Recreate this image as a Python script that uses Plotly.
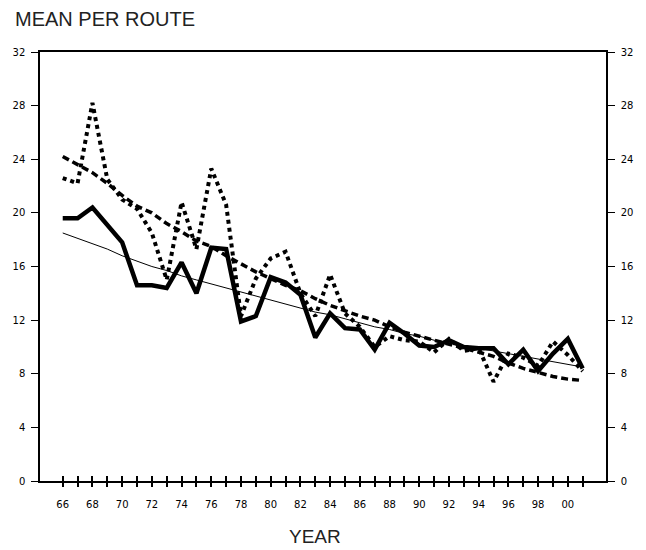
import plotly.graph_objects as go

years = list(range(66, 102))
tick_labels = [(f"{y % 100:02d}" if y % 2 == 0 and y <= 100 else "") for y in years]

series_thick = [19.6, 19.6, 20.4, 19.1, 17.8, 14.6, 14.6, 14.4, 16.3, 14.0,
                17.4, 17.3, 11.9, 12.3, 15.2, 14.8, 13.9, 10.7, 12.5, 11.4,
                11.3, 9.8, 11.8, 11.0, 10.1, 10.0, 10.5, 10.0, 9.9, 9.9,
                8.7, 9.8, 8.2, 9.5, 10.6, 8.4]

series_trend = [18.5, 18.1, 17.7, 17.3, 16.8, 16.4, 16.0, 15.7, 15.3, 15.0,
                14.7, 14.4, 14.1, 13.8, 13.5, 13.2, 12.9, 12.6, 12.4, 12.1,
                11.8, 11.5, 11.3, 11.0, 10.8, 10.5, 10.3, 10.1, 9.9, 9.7,
                9.5, 9.3, 9.1, 8.9, 8.7, 8.5]

series_dotted = [22.6, 22.2, 28.2, 22.5, 21.0, 20.3, 18.5, 15.0, 20.8, 17.3,
                 23.3, 20.6, 12.3, 15.1, 16.6, 17.1, 14.0, 12.3, 15.4, 12.5,
                 11.5, 10.0, 10.8, 10.5, 10.4, 9.6, 10.6, 9.7, 9.9, 7.4,
                 9.5, 9.2, 8.6, 10.4, 9.4, 8.2]

series_dashed = [24.2, 23.6, 23.0, 22.2, 21.3, 20.5, 20.0, 19.2, 18.6, 17.9,
                 17.5, 16.8, 16.2, 15.6, 15.1, 14.6, 14.2, 13.6, 13.1, 12.7,
                 12.3, 12.0, 11.5, 11.1, 10.8, 10.5, 10.2, 9.9, 9.6, 9.3,
                 8.8, 8.4, 8.1, 7.8, 7.6, 7.5]

y_ticks = [0, 4, 8, 12, 16, 20, 24, 28, 32]

TITLE_FONT = "Liberation Sans, Arial, sans-serif"
TICK_FONT = "DejaVu Sans, sans-serif"
XR = [64.47, 102.57]

fig = go.Figure()
fig.add_trace(go.Scatter(x=years, y=series_dashed, mode="lines",
                         line=dict(color="black", width=3.5, dash="7px,4px"),
                         hoverinfo="skip", showlegend=False))
fig.add_trace(go.Scatter(x=years, y=series_dotted, mode="lines",
                         line=dict(color="black", width=4, dash="4px,4px"),
                         hoverinfo="skip", showlegend=False))
fig.add_trace(go.Scatter(x=years, y=series_thick, mode="lines",
                         line=dict(color="black", width=4.5),
                         hoverinfo="skip", showlegend=False))
fig.add_trace(go.Scatter(x=years, y=series_trend, mode="lines",
                         line=dict(color="black", width=1),
                         xaxis="x2", yaxis="y2",
                         hoverinfo="skip", showlegend=False))

fig.update_layout(
    width=646, height=550,
    margin=dict(l=40, r=40, t=52, b=69),
    paper_bgcolor="white", plot_bgcolor="white",
    font=dict(family=TICK_FONT, color="black", size=10),
    xaxis=dict(range=XR, tickvals=years, ticktext=tick_labels,
               ticks="outside", ticklen=4, tickwidth=1.5, tickcolor="black",
               showline=True, linecolor="black", linewidth=2, mirror=True,
               showgrid=False, zeroline=False, ticklabelstandoff=9,
               tickfont=dict(size=10, family=TICK_FONT)),
    xaxis2=dict(range=XR, overlaying="x", anchor="y", tickvals=years,
                ticks="inside", ticklen=5, tickwidth=1.5, tickcolor="black",
                showticklabels=False, showline=False, showgrid=False, zeroline=False),
    yaxis=dict(range=[0, 32], tickvals=y_ticks, ticks="outside", ticklen=7,
               tickwidth=1, tickcolor="black", showline=True, linecolor="black",
               linewidth=1.5, showgrid=False, zeroline=False, ticklabelstandoff=4,
               tickfont=dict(size=10, family=TICK_FONT)),
    yaxis2=dict(range=[0, 32], tickvals=y_ticks, overlaying="y", side="right",
                anchor="x", ticks="outside", ticklen=7, tickwidth=1,
                tickcolor="black", showline=True, linecolor="black", linewidth=1.5,
                showgrid=False, zeroline=False, ticklabelstandoff=4,
                tickfont=dict(size=10, family=TICK_FONT)),
    annotations=[
        dict(text="MEAN PER ROUTE", xref="paper", yref="paper",
             x=-0.047, y=1.0758, xanchor="left", yanchor="middle",
             showarrow=False, font=dict(size=20, family=TITLE_FONT, color="#222")),
        dict(text="YEAR", xref="paper", yref="paper",
             x=0.4859, y=-0.1595, xanchor="center", yanchor="bottom",
             showarrow=False, font=dict(size=19, family=TITLE_FONT, color="#222")),
    ],
)

fig.write_html("out.html", config={"displayModeBar": False},
               post_script="document.body.style.margin='0';")
